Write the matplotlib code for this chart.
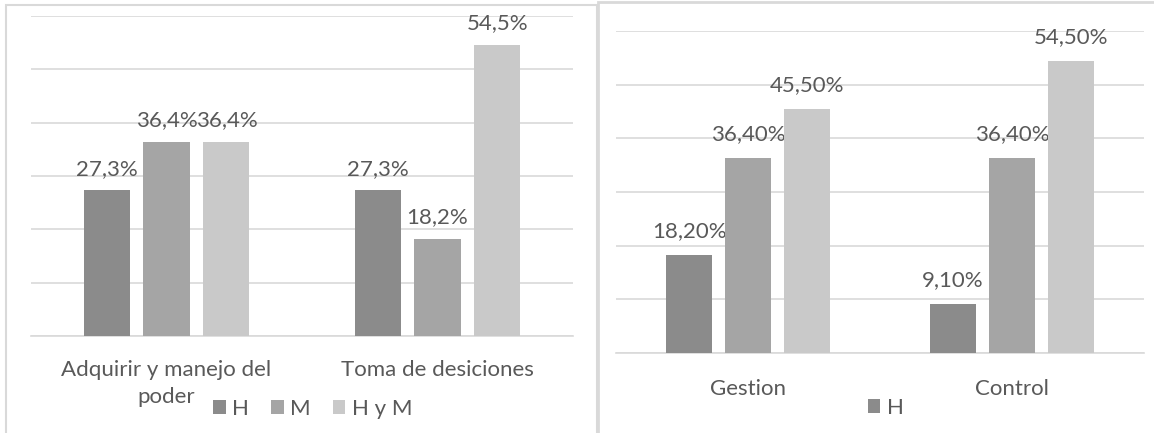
import numpy as np
import matplotlib
matplotlib.use('Agg')
import matplotlib.pyplot as plt
from matplotlib.patches import Rectangle

plt.rcParams['font.family'] = ['Lato', 'DejaVu Sans']

# left chart data
left_cats = ['Adquirir y manejo del', 'Toma de desiciones']
left_cat_line2 = ['poder']
left_h = [27.3, 27.3]
left_m = [36.4, 18.2]
left_hym = [36.4, 54.5]

# right chart data
right_cats = ['Gestion', 'Control']
right_h = [18.2, 9.1]
right_m = [36.4, 36.4]
right_hym = [45.5, 54.5]

series_names = ['H', 'M', 'H y M']
colors = ['#8b8b8b', '#a5a5a5', '#c9c9c9']
text_col = '#595959'
grid_col = '#d9d9d9'
fs = 16

W, H = 1154, 433
fig = plt.figure(figsize=(W / 100, H / 100), dpi=100)


def px_axes(x0, x1, ytop, ybot):
    return fig.add_axes([x0 / W, (H - ybot) / H, (x1 - x0) / W, (ybot - ytop) / H])


def draw(ax, cats, series, width, step, fmt, pad, lab_off):
    x = np.arange(len(cats))
    bars = []
    for i, (vals, c) in enumerate(zip(series, colors)):
        b = ax.bar(x + (i - 1) * step, vals, width, color=c, label=series_names[i], zorder=3)
        bars.append(b)
        for xi, v in zip(x + (i - 1) * step, vals):
            ax.annotate(fmt.format(v).replace('.', ','), (xi, v), xytext=(0, lab_off),
                        textcoords='offset points', ha='center', va='bottom',
                        fontsize=fs, color=text_col)
    ax.set_xlim(-0.5, len(cats) - 0.5)
    ax.set_ylim(0, 60)
    ax.set_yticks(np.arange(0, 61, 10))
    ax.yaxis.grid(True, color=grid_col, lw=1.2, zorder=0)
    ax.tick_params(axis='y', left=False, labelleft=False)
    ax.set_xticks(x)
    ax.set_xticklabels(cats, fontsize=fs, color=text_col)
    ax.tick_params(axis='x', which='both', length=0, pad=pad)
    for s in ['top', 'right', 'left']:
        ax.spines[s].set_visible(False)
    ax.spines['bottom'].set_color(grid_col)
    ax.spines['bottom'].set_linewidth(1.2)
    ax.patch.set_alpha(0)
    return bars


ax1 = px_axes(31, 573, 16, 336)
b1 = draw(ax1, left_cats, [left_h, left_m, left_hym], 0.17, 0.221, '{:.1f}%', 17.5, 8.5)
# second line of the first category label
ax1.xaxis.remove_overlapping_locs = False
ax1.set_xticks([0], minor=True)
ax1.set_xticklabels(left_cat_line2, minor=True, fontsize=fs, color=text_col)
ax1.tick_params(axis='x', which='minor', length=0, pad=37)

ax2 = px_axes(616, 1144, 31, 353)
b2 = draw(ax2, right_cats, [right_h, right_m, right_hym], 0.174, 0.223, '{:.2f}%', 18.5, 10)

fig.legend(handles=b1, labels=series_names, loc='center', bbox_to_anchor=(313 / W, 1 - 409 / H),
           ncol=3, frameon=False, fontsize=fs, labelcolor=text_col, handlelength=0.55,
           handleheight=0.55, handletextpad=0.3, columnspacing=1.0, borderpad=0)
fig.legend(handles=[b2[0]], labels=['H'], loc='center', bbox_to_anchor=(886 / W, 1 - 408 / H),
           frameon=False, fontsize=fs, labelcolor=text_col, handlelength=0.55,
           handleheight=0.55, handletextpad=0.3, borderpad=0)

# panel frames
fig.patches.append(Rectangle((6 / W, -0.01), 591 / W, 1 - 5 / H + 0.01, transform=fig.transFigure,
                             fill=False, edgecolor=grid_col, lw=1.5))
fig.patches.append(Rectangle((598 / W, -0.01), 560 / W, 1 - 2 / H + 0.01, transform=fig.transFigure,
                             fill=False, edgecolor=grid_col, lw=2))

fig.savefig('out.png', dpi=100)
